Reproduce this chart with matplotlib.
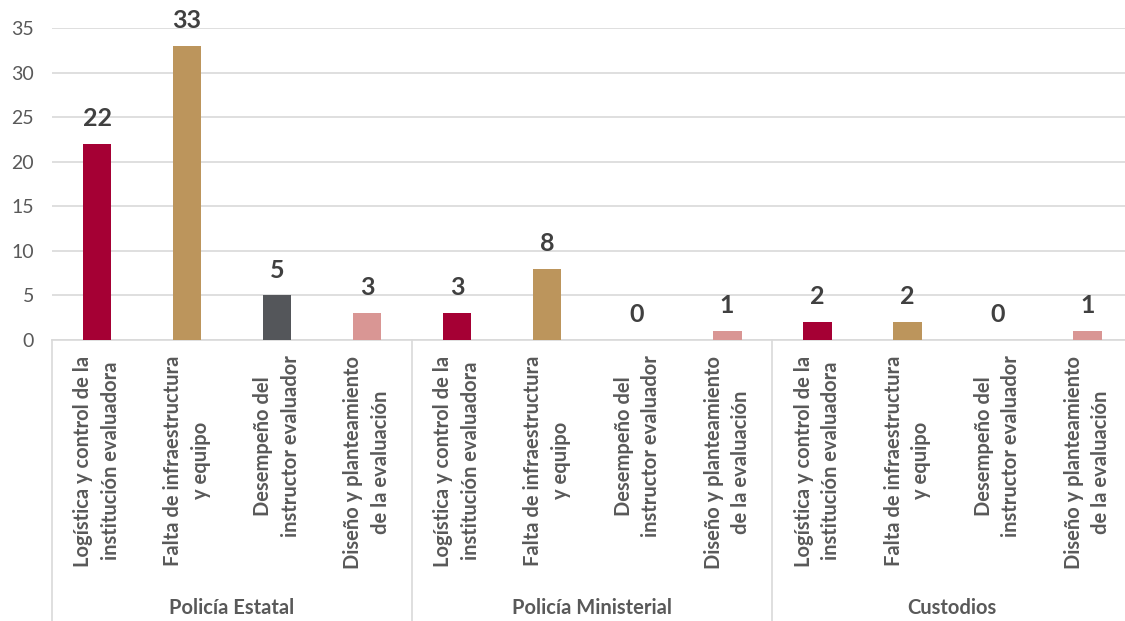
import matplotlib.pyplot as plt
import matplotlib.transforms as mtransforms

# Data
groups = ["Policía Estatal", "Policía Ministerial", "Custodios"]
categories = ["Logística y control de la\ninstitución evaluadora",
              "Falta de infraestructura\ny equipo",
              "Desempeño del\ninstructor evaluador",
              "Diseño y planteamiento\nde la evaluación"]
estatal = [22, 33, 5, 3]
ministerial = [3, 8, 0, 1]
custodios = [2, 2, 0, 1]
colors = ["#A50034", "#BC955C", "#54565A", "#D99694"]

plt.rcParams['font.family'] = ['Lato', 'DejaVu Sans']
TXT = "#404040"

fig = plt.figure(figsize=(11.25, 6.21), dpi=100)
ax = fig.add_axes([52 / 1125, 281 / 621, 1073 / 1125, 312 / 621])

values = estatal + ministerial + custodios
xs = list(range(len(values)))
bar_colors = colors * len(groups)
ax.bar(xs, values, width=0.32, color=bar_colors, zorder=3)

for x, v in zip(xs, values):
    ax.text(x, v + 1.55, str(v), ha="center", va="bottom", fontsize=18,
            fontweight="bold", color=TXT)

ax.set_xlim(-0.5, 11.42)
ax.set_ylim(0, 35)
ax.set_yticks(range(0, 36, 5))
ax.tick_params(axis="y", length=0, labelsize=14, labelcolor="#595959", pad=13)
ax.tick_params(axis="x", length=0)
ax.set_xticks([])
ax.grid(axis="y", color="#D9D9D9", linewidth=1.2, zorder=0)
for s in ["top", "right", "left"]:
    ax.spines[s].set_visible(False)
ax.spines["bottom"].set_color("#D9D9D9")
ax.spines["bottom"].set_linewidth(1.2)

trans = mtransforms.blended_transform_factory(ax.transData, ax.transAxes)
for i, x in enumerate(xs):
    ax.text(x, -0.05, categories[i % 4], transform=trans, rotation=90,
            ha="center", va="top", multialignment="center", fontsize=14.5,
            fontweight="bold", color="#595959", linespacing=1.45)

for g, name in enumerate(groups):
    ax.text(g * 4 + 1.5, -0.86, name, transform=trans, ha="center",
            va="center", fontsize=14.5, fontweight="bold", color="#595959")
    ax.plot([g * 4 - 0.5, g * 4 - 0.5], [0, -0.92], transform=trans,
            color="#D9D9D9", linewidth=1.2, clip_on=False)

fig.savefig("out.png", dpi=100)
